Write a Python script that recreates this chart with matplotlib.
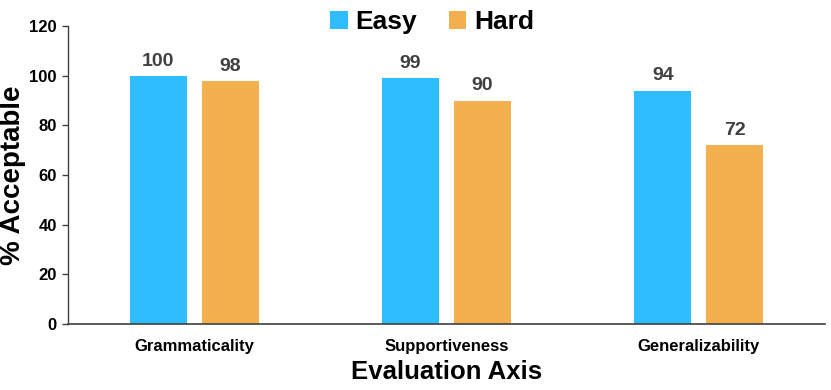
import numpy as np
import matplotlib
matplotlib.use("Agg")
from matplotlib import pyplot as plt

categories = ["Grammaticality", "Supportiveness", "Generalizability"]
easy = [100, 99, 94]
hard = [98, 90, 72]
yticks = [0, 20, 40, 60, 80, 100, 120]

plt.rcParams['font.family'] = ['Liberation Sans', 'DejaVu Sans']

fig = plt.figure(figsize=(8.31, 3.9), dpi=100)
ax = fig.add_axes([0.0818, 0.169, 0.911, 0.764])

x = np.arange(len(categories))
w = 0.226
b1 = ax.bar(x - 0.143, easy, w, color="#2EBDFE", label="Easy")
b2 = ax.bar(x + 0.143, hard, w, color="#F4B04F", label="Hard")

for bars, vals in [(b1, easy), (b2, hard)]:
    for r, v in zip(bars, vals):
        ax.text(r.get_x() + r.get_width() / 2, v + 2.5, str(v), ha="center", va="bottom",
                fontsize=14, fontweight="bold", color="#404040")

ax.set_xlim(-0.5, 2.5)
ax.set_ylim(0, 120)
ax.set_yticks(yticks)
ax.set_yticklabels([str(t) for t in yticks], fontsize=12, fontweight="bold")
ax.set_xticks(x)
ax.set_xticklabels(categories, fontsize=12, fontweight="bold")
ax.tick_params(axis="x", length=0, pad=11)
ax.tick_params(axis="y", length=4, width=1, color="#404040", pad=4)

for s in ["top", "right"]:
    ax.spines[s].set_visible(False)
ax.spines["left"].set_color("#404040")
ax.spines["bottom"].set_color("#404040")
ax.spines["left"].set_linewidth(1)
ax.spines["bottom"].set_linewidth(1.2)

ax.set_ylabel("% Acceptable", fontsize=20, fontweight="bold", labelpad=2)
ax.set_xlabel("Evaluation Axis", fontsize=18.5, fontweight="bold", labelpad=4)

fig.legend(loc="upper center", bbox_to_anchor=(0.52, 1.035), ncol=2, frameon=False,
           prop={"size": 19, "weight": "bold"}, handlelength=0.65, handleheight=0.65,
           handletextpad=0.3, columnspacing=1.2)

fig.savefig("out.png", dpi=100)
